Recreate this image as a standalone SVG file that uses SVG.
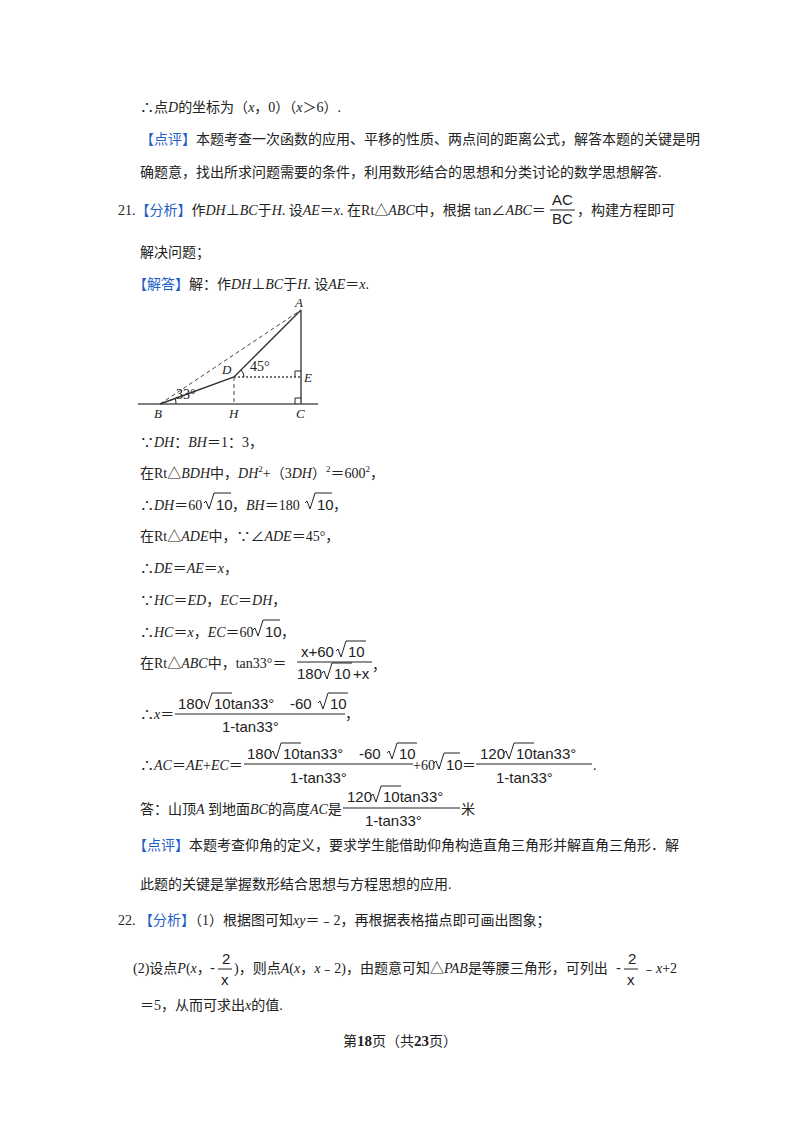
<svg xmlns="http://www.w3.org/2000/svg" width="800" height="1132" viewBox="0 0 800 1132">
<style>
text{font-family:"Liberation Serif","Noto Sans CJK SC",serif;font-size:14px;fill:#222}
.b{fill:#1f5fc8}
.i{font-style:italic}
.m{font-family:"Liberation Sans","Noto Sans CJK SC",sans-serif;font-size:15px}
.f{stroke:#222;stroke-width:1;fill:none}
.g{stroke:#555;stroke-width:1.6;fill:none}
.lbl{font-size:13px;font-style:italic}
</style>
<rect width="800" height="1132" fill="#fff"/>
<g id="text">
<text x="140" y="112">∴点<tspan class="i">D</tspan>的坐标为（<tspan class="i">x</tspan>，0）（<tspan class="i">x</tspan>＞6）.</text>
<text x="140" y="144"><tspan class="b">【点评】</tspan>本题考查一次函数的应用、平移的性质、两点间的距离公式，解答本题的关键是明</text>
<text x="140" y="177">确题意，找出所求问题需要的条件，利用数形结合的思想和分类讨论的数学思想解答.</text>
<text x="118" y="215">21.<tspan class="b">【分析】</tspan>作<tspan class="i">DH</tspan>⊥<tspan class="i">BC</tspan>于<tspan class="i">H</tspan>. 设<tspan class="i">AE</tspan>＝<tspan class="i">x</tspan>. 在Rt△<tspan class="i">ABC</tspan>中，根据 tan∠<tspan class="i">ABC</tspan>＝</text>
<text x="552" y="205" class="m" font-size="13">AC</text>
<line x1="550" y1="210" x2="575" y2="210" class="f"/>
<text x="552" y="224" class="m" font-size="13">BC</text>
<text x="577" y="215">，构建方程即可</text>
<text x="140" y="257">解决问题；</text>
<text x="133" y="289"><tspan class="b">【解答】</tspan>解：作<tspan class="i">DH</tspan>⊥<tspan class="i">BC</tspan>于<tspan class="i">H</tspan>. 设<tspan class="i">AE</tspan>＝<tspan class="i">x</tspan>.</text>

<text x="140" y="447">∵<tspan class="i">DH</tspan>：<tspan class="i">BH</tspan>＝1：3，</text>
<text x="140" y="478">在Rt△<tspan class="i">BDH</tspan>中，<tspan class="i">DH</tspan><tspan font-size="9" dy="-6">2</tspan><tspan dy="6">+（3</tspan><tspan class="i">DH</tspan>）<tspan font-size="9" dy="-6">2</tspan><tspan dy="6">＝600</tspan><tspan font-size="9" dy="-6">2</tspan><tspan dy="6">，</tspan></text>
<text x="140" y="510">∴<tspan class="i">DH</tspan>＝60</text>
<path class="f" d="M204,503 l2,-2 l3,8 l5,-16 h17"/><text x="216" y="510" class="m">10</text>
<text x="232" y="510">，<tspan class="i">BH</tspan>＝180</text>
<path class="f" d="M305,503 l2,-2 l3,8 l5,-16 h17"/><text x="317" y="510" class="m">10</text>
<text x="333" y="510">，</text>
<text x="140" y="541">在Rt△<tspan class="i">ADE</tspan>中，∵∠<tspan class="i">ADE</tspan>＝45°，</text>
<text x="140" y="573">∴<tspan class="i">DE</tspan>＝<tspan class="i">AE</tspan>＝<tspan class="i">x</tspan>，</text>
<text x="140" y="605">∵<tspan class="i">HC</tspan>＝<tspan class="i">ED</tspan>，<tspan class="i">EC</tspan>＝<tspan class="i">DH</tspan>，</text>
<text x="140" y="637">∴<tspan class="i">HC</tspan>＝<tspan class="i">x</tspan>，<tspan class="i">EC</tspan>＝60</text>
<path class="f" d="M253,630 l2,-2 l3,8 l5,-16 h17"/><text x="265" y="637" class="m">10</text>
<text x="281" y="637">，</text>

<text x="140" y="668">在Rt△<tspan class="i">ABC</tspan>中，tan33°＝</text>
<text x="301" y="657" class="m">x+60</text>
<path class="f" d="M336,651 l2,-2 l3,8 l5,-16 h20"/><text x="348" y="657" class="m">10</text>
<line x1="297" y1="662" x2="372" y2="662" class="f"/>
<text x="297" y="679" class="m">180</text>
<path class="f" d="M322,673 l2,-2 l3,8 l5,-16 h20"/><text x="334" y="679" class="m">10</text>
<text x="353" y="679" class="m">+x</text>
<text x="372" y="670">，</text>

<text x="140" y="719">∴<tspan class="i">x</tspan>＝</text>
<text x="178" y="709" class="m">180</text>
<path class="f" d="M202,703 l2,-2 l3,8 l5,-16 h20"/><text x="214" y="709" class="m">10tan33°</text>
<text x="290" y="709" class="m">-60</text>
<path class="f" d="M318,703 l2,-2 l3,8 l5,-16 h20"/><text x="330" y="709" class="m">10</text>
<line x1="175" y1="714" x2="345" y2="714" class="f"/>
<text x="222" y="732" class="m">1-tan33°</text>
<text x="345" y="719">，</text>

<text x="140" y="770">∴<tspan class="i">AC</tspan>＝<tspan class="i">AE</tspan>+<tspan class="i">EC</tspan>＝</text>
<text x="247" y="759" class="m">180</text>
<path class="f" d="M271,753 l2,-2 l3,8 l5,-16 h20"/><text x="283" y="759" class="m">10tan33°</text>
<text x="359" y="759" class="m">-60</text>
<path class="f" d="M387,753 l2,-2 l3,8 l5,-16 h20"/><text x="399" y="759" class="m">10</text>
<line x1="244" y1="764" x2="413" y2="764" class="f"/>
<text x="290" y="783" class="m">1-tan33°</text>
<text x="413" y="770">+60</text>
<path class="f" d="M434,763 l2,-2 l3,8 l5,-16 h16"/><text x="446" y="770" class="m">10</text>
<text x="462" y="770">＝</text>
<line x1="476" y1="764" x2="592" y2="764" class="f"/>
<text x="480" y="759" class="m">120</text>
<path class="f" d="M504,753 l2,-2 l3,8 l5,-16 h20"/><text x="516" y="759" class="m">10tan33°</text>
<text x="496" y="783" class="m">1-tan33°</text>
<text x="593" y="770">.</text>

<text x="140" y="814">答：山顶<tspan class="i">A</tspan> 到地面<tspan class="i">BC</tspan>的高度<tspan class="i">AC</tspan>是</text>
<line x1="343" y1="808" x2="460" y2="808" class="f"/>
<text x="347" y="802" class="m">120</text>
<path class="f" d="M371,796 l2,-2 l3,8 l5,-16 h20"/><text x="383" y="802" class="m">10tan33°</text>
<text x="365" y="826" class="m">1-tan33°</text>
<text x="461" y="814">米</text>

<text x="133" y="850"><tspan class="b">【点评】</tspan>本题考查仰角的定义，要求学生能借助仰角构造直角三角形并解直角三角形．解</text>
<text x="140" y="889">此题的关键是掌握数形结合思想与方程思想的应用.</text>
<text x="118" y="925">22. <tspan class="b">【分析】</tspan>（1）根据图可知<tspan class="i">xy</tspan>＝﹣2，再根据表格描点即可画出图象；</text>
<text x="133" y="973">(2)设点<tspan class="i">P</tspan>(<tspan class="i">x</tspan>，</text>
<text x="210" y="973" class="m">-</text>
<text x="222" y="964" class="m">2</text><line x1="218" y1="969" x2="232" y2="969" class="f"/><text x="221" y="985" class="m">x</text>
<text x="234" y="973">)，则点<tspan class="i">A</tspan>(<tspan class="i">x</tspan>，<tspan class="i">x</tspan>﹣2)，由题意可知△<tspan class="i">PAB</tspan>是等腰三角形，可列出</text>
<text x="616" y="973" class="m">-</text>
<text x="628" y="964" class="m">2</text><line x1="624" y1="969" x2="638" y2="969" class="f"/><text x="627" y="985" class="m">x</text>
<text x="642" y="973">﹣<tspan class="i">x</tspan>+2</text>
<text x="140" y="1010">＝5，从而可求出<tspan class="i">x</tspan>的值.</text>
<text x="400" y="1046" text-anchor="middle" font-size="13">第<tspan font-weight="bold" font-size="15">18</tspan>页（共<tspan font-weight="bold" font-size="15">23</tspan>页）</text>
</g>
<g id="figure">
<line x1="138" y1="404" x2="318" y2="404" class="g"/>
<line x1="301" y1="310" x2="301" y2="404" class="g"/>
<line x1="160" y1="404" x2="301" y2="310" stroke="#444" stroke-dasharray="4,3" fill="none"/>
<polyline points="160,404 234,377 301,310" stroke="#333" stroke-width="1.4" fill="none"/>
<line x1="234" y1="377" x2="301" y2="377" stroke="#444" stroke-dasharray="2,2" stroke-width="1.3"/>
<line x1="234" y1="377" x2="234" y2="404" stroke="#444" stroke-dasharray="4,3"/>
<polyline points="295,377 295,371 301,371" class="f"/>
<polyline points="295,404 295,398 301,398" class="f"/>
<path d="M176,404 A16,16 0 0 0 175,398" class="f"/>
<path d="M244,377 A10,10 0 0 0 241,370" class="f"/>
<text x="176" y="399" font-size="9">33°</text>
<text x="250" y="371" font-size="10">45°</text>
<text x="295" y="307" class="lbl">A</text>
<text x="222" y="374" class="lbl">D</text>
<text x="304" y="382" class="lbl">E</text>
<text x="154" y="418" class="lbl">B</text>
<text x="229" y="418" class="lbl">H</text>
<text x="296" y="418" class="lbl">C</text>
</g>
<g id="connectors"/>
</svg>
